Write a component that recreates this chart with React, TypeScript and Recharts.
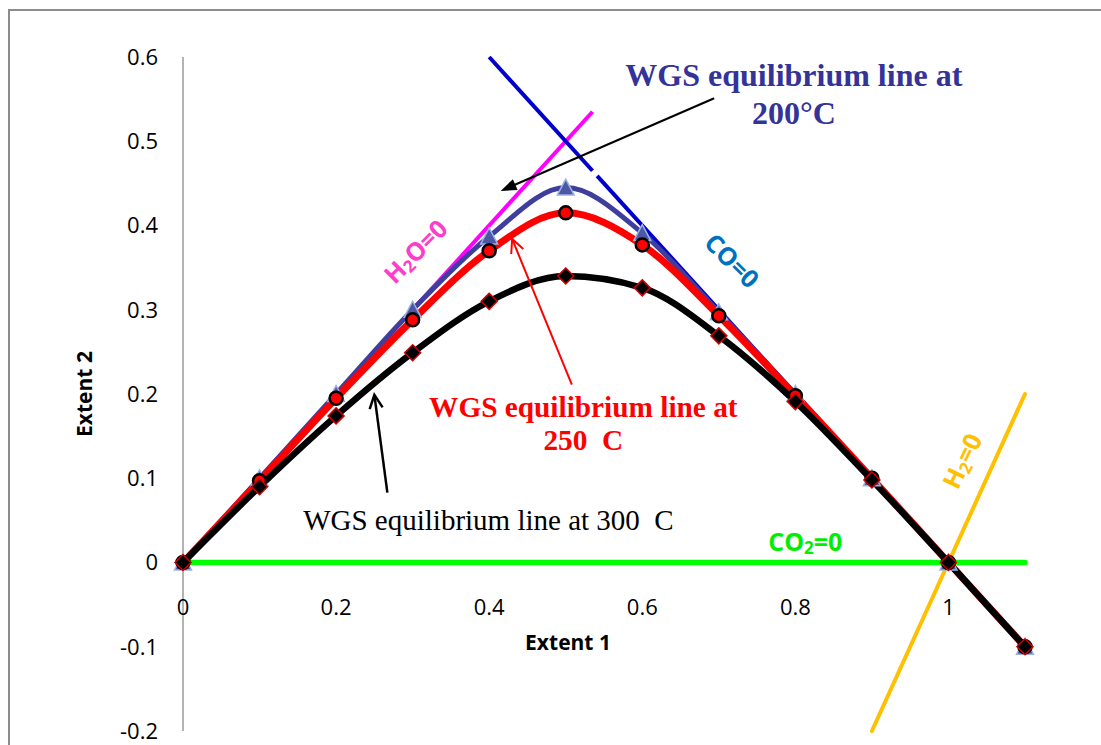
import { LineChart, Line, XAxis, YAxis, ReferenceLine, ReferenceDot } from 'recharts'

// extent 1 values (x) and extent 2 on the WGS equilibrium curves
const EXTENT_1 = [0, 0.1, 0.2, 0.3, 0.4, 0.5, 0.6, 0.7, 0.8, 0.9, 1, 1.1]
const WGS_200 = [0, 0.1, 0.2, 0.3, 0.387, 0.445, 0.391, 0.297, 0.2, 0.1, 0, -0.1]
const WGS_250 = [0, 0.097, 0.195, 0.288, 0.37, 0.415, 0.377, 0.293, 0.198, 0.1, 0, -0.1]
const WGS_300 = [0, 0.09, 0.174, 0.249, 0.31, 0.34, 0.326, 0.269, 0.191, 0.098, 0, -0.1]

const X_TICKS = [0, 0.2, 0.4, 0.6, 0.8, 1]
const Y_TICKS = [-0.2, -0.1, 0, 0.1, 0.2, 0.3, 0.4, 0.5, 0.6]

// species = 0 constraint lines, as end points in extent units
const H2O_ZERO = [{ x: 0, y: 0 }, { x: 0.535, y: 0.535 }]
// CO = 0 is broken where the 200°C text box sits over it
const CO_ZERO_A = [{ x: 0.4, y: 0.6 }, { x: 0.535, y: 0.465 }]
const CO_ZERO_B = [{ x: 0.541, y: 0.459 }, { x: 0.8, y: 0.2 }]
const H2_ZERO = [{ x: 0.9, y: -0.2 }, { x: 1.1, y: 0.2 }]
const CO2_ZERO = [{ x: 0, y: 0 }, { x: 1.1, y: 0 }]

const rows = EXTENT_1.map((x, i) => ({ x, t200: WGS_200[i], t250: WGS_250[i], t300: WGS_300[i] }))

const SANS = "'Open Sans', 'Noto Sans', sans-serif"
const SERIF = "'Liberation Serif', 'Times New Roman', serif"

const fmt = (v: number) => String(Number(v.toFixed(1)))

const Triangle = (p: any) => {
  const { cx, cy, index } = p
  if (cx == null || cy == null) return null
  return (
    <path
      key={`tri-${index}`}
      d={`M${cx},${cy - 8.5} L${cx + 8.5},${cy + 7.5} L${cx - 8.5},${cy + 7.5} Z`}
      fill="#4A58A6"
      stroke="#9EB1DF"
      strokeWidth={1.5}
    />
  )
}

const Circle = (p: any) => {
  const { cx, cy, index } = p
  if (cx == null || cy == null) return null
  return <circle key={`cir-${index}`} cx={cx} cy={cy} r={6.5} fill="#FF0000" stroke="#000" strokeWidth={2.5} />
}

const Diamond = (p: any) => {
  const { cx, cy, index } = p
  if (cx == null || cy == null) return null
  return (
    <path
      key={`dia-${index}`}
      d={`M${cx},${cy - 8} L${cx + 8},${cy} L${cx},${cy + 8} L${cx - 8},${cy} Z`}
      fill="#000"
      stroke="#D00000"
      strokeWidth={1.5}
    />
  )
}

const arrow = (color: string, width: number, filled: boolean) => (p: any) => {
  const { x1, y1, x2, y2 } = p
  const a = Math.atan2(y2 - y1, x2 - x1)
  const len = filled ? 17 : 15
  const spread = filled ? 0.36 : 0.45
  const lx = x2 - len * Math.cos(a - spread)
  const ly = y2 - len * Math.sin(a - spread)
  const rx = x2 - len * Math.cos(a + spread)
  const ry = y2 - len * Math.sin(a + spread)
  const ex = filled ? x2 - (len - 4) * Math.cos(a) : x2
  const ey = filled ? y2 - (len - 4) * Math.sin(a) : y2
  return (
    <g>
      <line x1={x1} y1={y1} x2={ex} y2={ey} stroke={color} strokeWidth={width} />
      {filled ? (
        <path d={`M${x2},${y2} L${lx},${ly} L${rx},${ry} Z`} fill={color} />
      ) : (
        <path d={`M${lx},${ly} L${x2},${y2} L${rx},${ry}`} fill="none" stroke={color} strokeWidth={width} />
      )}
    </g>
  )
}

const note = (key: string, x: number, y: number, draw: (cx: number, cy: number) => any) => (
  <ReferenceDot
    key={key}
    x={x}
    y={y}
    r={0}
    ifOverflow="visible"
    fill="none"
    stroke="none"
    shape={(p: any) => draw(p.cx, p.cy)}
  />
)

const wgsText = (lines: string[], color: string, size: number, weight: number, anchor: string, gap: number) =>
  (cx: number, cy: number) => (
    <text x={cx} y={cy} fill={color} fontSize={size} fontWeight={weight} fontFamily={SERIF}
      textAnchor={anchor} style={{ whiteSpace: 'pre' }}>
      {lines.map((l, i) => (
        <tspan key={i} x={cx} dy={i === 0 ? 0 : gap}>{l}</tspan>
      ))}
    </text>
  )

// label like H2O=0, with the digit after `head` set as subscript
const species = (head: string, sub: string, tail: string, color: string, angle: number) =>
  (cx: number, cy: number) => (
    <text x={cx} y={cy} fill={color} fontSize={25} fontWeight={700} fontFamily={SANS}
      textAnchor="middle" dominantBaseline="central" transform={`rotate(${angle} ${cx} ${cy})`}>
      {head}
      <tspan dy={6} fontSize={17}>{sub}</tspan>
      <tspan dy={-6}>{tail}</tspan>
    </text>
  )

export default function App() {
  return (
    <div style={{ position: 'absolute', left: 0, top: 0, width: 1101, height: 745, overflow: 'hidden', background: '#fff' }}>
      <div style={{ position: 'absolute', left: 8, top: 9, width: 1200, height: 900, borderLeft: '2px solid #8c8c8c', borderTop: '2px solid #8c8c8c' }} />
      <div style={{ position: 'absolute', left: 0, top: 0 }}>
        <LineChart width={1101} height={745} data={rows} margin={{ top: 57, right: 76, bottom: 14, left: 63 }}>
          <XAxis type="number" dataKey="x" domain={[0, 1.1]} hide />
          <YAxis
            type="number"
            domain={[-0.2, 0.6]}
            ticks={Y_TICKS}
            width={120}
            tickFormatter={fmt}
            tickLine={false}
            tickSize={0}
            tickMargin={25}
            axisLine={{ stroke: '#9a9a9a', strokeWidth: 1.5 }}
            tick={{ fill: '#000', fontSize: 22, fontFamily: SANS }}
            label={{
              value: 'Extent 2', angle: -90, position: 'insideLeft', offset: 22,
              style: { textAnchor: 'middle', fontWeight: 700, fontSize: 21, fontFamily: SANS, fill: '#000' },
            }}
          />

          <ReferenceLine segment={H2_ZERO} stroke="#FFC000" strokeWidth={4} strokeLinecap="round" ifOverflow="visible" />
          <ReferenceLine segment={CO2_ZERO} stroke="#00FF00" strokeWidth={5.5} strokeLinecap="round" ifOverflow="visible" />
          <ReferenceLine segment={H2O_ZERO} stroke="#FF00FF" strokeWidth={4} ifOverflow="visible" />
          <ReferenceLine segment={CO_ZERO_A} stroke="#0000CC" strokeWidth={4} ifOverflow="visible" />
          <ReferenceLine segment={CO_ZERO_B} stroke="#0000CC" strokeWidth={4} ifOverflow="visible" />

          <Line type="monotone" dataKey="t200" stroke="#3E3E9C" strokeWidth={5} dot={Triangle} isAnimationActive={false} />
          <Line type="monotone" dataKey="t250" stroke="#FF0000" strokeWidth={7} dot={Circle} isAnimationActive={false} />
          <Line type="monotone" dataKey="t300" stroke="#000" strokeWidth={6.5} dot={Diamond} isAnimationActive={false} />

          {X_TICKS.map((t) =>
            note(`xt-${t}`, t, 0, (cx, cy) => (
              <text x={cx} y={cy + 43} fill="#000" fontSize={22} fontFamily={SANS} textAnchor="middle" dominantBaseline="central">
                {fmt(t)}
              </text>
            ))
          )}
          {note('xtitle', 0.503, 0, (cx, cy) => (
            <text x={cx} y={cy + 79} fill="#000" fontSize={21} fontWeight={700} fontFamily={SANS} textAnchor="middle" dominantBaseline="central">
              Extent 1
            </text>
          ))}

          <ReferenceLine segment={[{ x: 0.694, y: 0.551 }, { x: 0.415, y: 0.441 }]} ifOverflow="visible" shape={arrow('#000', 2, true)} />
          <ReferenceLine segment={[{ x: 0.508, y: 0.211 }, { x: 0.43, y: 0.384 }]} ifOverflow="visible" shape={arrow('#FF0000', 2, false)} />
          <ReferenceLine segment={[{ x: 0.267, y: 0.083 }, { x: 0.25, y: 0.199 }]} ifOverflow="visible" shape={arrow('#000', 2.5, false)} />

          {note('t200', 0.798, 0.566, wgsText(['WGS equilibrium line at', '200°C'], '#333399', 32, 700, 'middle', 38))}
          {note('t250', 0.523, 0.173, wgsText(['WGS equilibrium line at', '250\u00A0 C'], '#FF0000', 29.3, 700, 'middle', 33))}
          {note('t300', 0.157, 0.039, wgsText(['WGS equilibrium line at 300\u00A0 C'], '#000', 29, 400, 'start', 0))}

          {note('h2o', 0.303, 0.37, species('H', '2', 'O=0', '#FF3CCB', -45))}
          {note('co', 0.718, 0.359, species('CO=0', '', '', '#0070C0', 45))}
          {note('h2', 1.017, 0.121, species('H', '2', '=0', '#FFC000', -64))}
          {note('co2', 0.813, 0.026, species('CO', '2', '=0', '#00EE00', 0))}
        </LineChart>
      </div>
    </div>
  )
}
